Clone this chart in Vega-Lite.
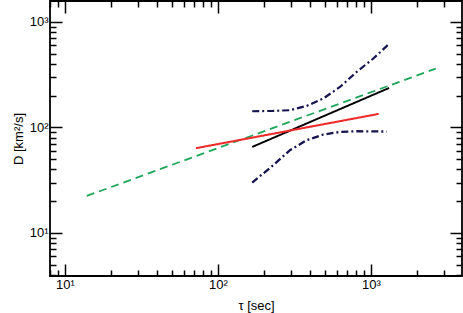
{
  "$schema": "https://vega.github.io/schema/vega-lite/v6.json",
  "width": 412,
  "height": 275,
  "autosize": "none",
  "padding": {"left": 50, "top": 1, "right": 1, "bottom": 37},
  "background": "white",
  "config": {
    "view": {"stroke": "black", "strokeWidth": 1.8},
    "font": "Liberation Sans",
    "axis": {
      "grid": false,
      "domain": false,
      "tickColor": "black",
      "tickWidth": 1.5,
      "labelFont": "Liberation Sans",
      "labelFontSize": 13,
      "labelColor": "black",
      "titleFont": "Liberation Sans",
      "titleFontSize": 13,
      "titleFontWeight": "normal",
      "titleColor": "black"
    }
  },
  "data": {
    "values": [
      {"series": "green", "x": 13.9, "y": 22.4},
      {"series": "green", "x": 2648, "y": 361},
      {"series": "black", "x": 167.5, "y": 65.3},
      {"series": "black", "x": 1312, "y": 236.6},
      {"series": "red", "x": 71.8, "y": 63.5},
      {"series": "red", "x": 1122, "y": 134.3},
      {"series": "upper", "x": 167.5, "y": 142.4},
      {"series": "upper", "x": 229.8, "y": 143.5},
      {"series": "upper", "x": 295.5, "y": 145.6},
      {"series": "upper", "x": 380, "y": 159.9},
      {"series": "upper", "x": 487.8, "y": 187.8},
      {"series": "upper", "x": 627, "y": 242},
      {"series": "upper", "x": 806, "y": 335.8},
      {"series": "upper", "x": 1035, "y": 449.9},
      {"series": "upper", "x": 1298, "y": 610.7},
      {"series": "lower", "x": 167.5, "y": 30.0},
      {"series": "lower", "x": 229.8, "y": 43.8},
      {"series": "lower", "x": 295.5, "y": 60.8},
      {"series": "lower", "x": 380, "y": 75.6},
      {"series": "lower", "x": 487.8, "y": 85.6},
      {"series": "lower", "x": 627, "y": 90.6},
      {"series": "lower", "x": 806, "y": 92.0},
      {"series": "lower", "x": 1267, "y": 91.4}
    ]
  },
  "resolve": {"axis": {"x": "independent", "y": "independent"}},
  "layer": [
    {
      "mark": {"type": "line", "clip": true},
      "encoding": {
        "x": {
          "field": "x", "type": "quantitative",
          "scale": {"type": "log", "domain": [8, 3930], "nice": false},
          "axis": {
            "orient": "bottom",
            "title": "τ [sec]",
            "titlePadding": 2,
            "values": [8,9,10,20,30,40,50,60,70,80,90,100,200,300,400,500,600,700,800,900,1000,2000,3000],
            "labelExpr": "datum.value == 10 ? '10¹' : datum.value == 100 ? '10²' : datum.value == 1000 ? '10³' : ''",
            "tickSize": {"condition": {"test": "datum.value == 10 || datum.value == 100 || datum.value == 1000", "value": -12}, "value": -6},
            "labelPadding": 14,
            "labelFlush": false,
            "labelOverlap": false
          }
        },
        "y": {
          "field": "y", "type": "quantitative",
          "scale": {"type": "log", "domain": [3.9, 1580], "nice": false},
          "axis": {
            "orient": "left",
            "title": "D [km²/s]",
            "titlePadding": 4,
            "values": [4,5,6,7,8,9,10,20,30,40,50,60,70,80,90,100,200,300,400,500,600,700,800,900,1000],
            "labelExpr": "datum.value == 10 ? '10¹' : datum.value == 100 ? '10²' : datum.value == 1000 ? '10³' : ''",
            "tickSize": {"condition": {"test": "datum.value == 10 || datum.value == 100 || datum.value == 1000", "value": -12}, "value": -6},
            "labelPadding": 14,
            "labelFlush": false,
            "labelOverlap": false
          }
        },
        "color": {
          "field": "series", "type": "nominal", "legend": null,
          "scale": {"domain": ["green", "black", "red", "upper", "lower"], "range": ["#1fa65a", "#000000", "#ee2b2b", "#15144f", "#15144f"]}
        },
        "strokeDash": {
          "field": "series", "type": "nominal", "legend": null,
          "scale": {"domain": ["green", "black", "red", "upper", "lower"], "range": [[8, 5], [1, 0], [1, 0], [7, 3, 2, 3], [7, 3, 2, 3]]}
        },
        "strokeWidth": {
          "field": "series", "type": "nominal", "legend": null,
          "scale": {"domain": ["green", "black", "red", "upper", "lower"], "range": [1.8, 2.3, 1.6, 2.8, 2.8]}
        }
      }
    },
    {
      "mark": {"type": "line", "opacity": 0},
      "encoding": {
        "x": {
          "field": "x", "type": "quantitative",
          "axis": {
            "orient": "top", "title": null, "labels": false,
            "values": [8,9,10,20,30,40,50,60,70,80,90,100,200,300,400,500,600,700,800,900,1000,2000,3000],
            "tickSize": {"condition": {"test": "datum.value == 10 || datum.value == 100 || datum.value == 1000", "value": -12}, "value": -6}
          }
        },
        "y": {
          "field": "y", "type": "quantitative",
          "axis": {
            "orient": "right", "title": null, "labels": false,
            "values": [4,5,6,7,8,9,10,20,30,40,50,60,70,80,90,100,200,300,400,500,600,700,800,900,1000],
            "tickSize": {"condition": {"test": "datum.value == 10 || datum.value == 100 || datum.value == 1000", "value": -12}, "value": -6}
          }
        },
        "detail": {"field": "series"}
      }
    }
  ]
}
